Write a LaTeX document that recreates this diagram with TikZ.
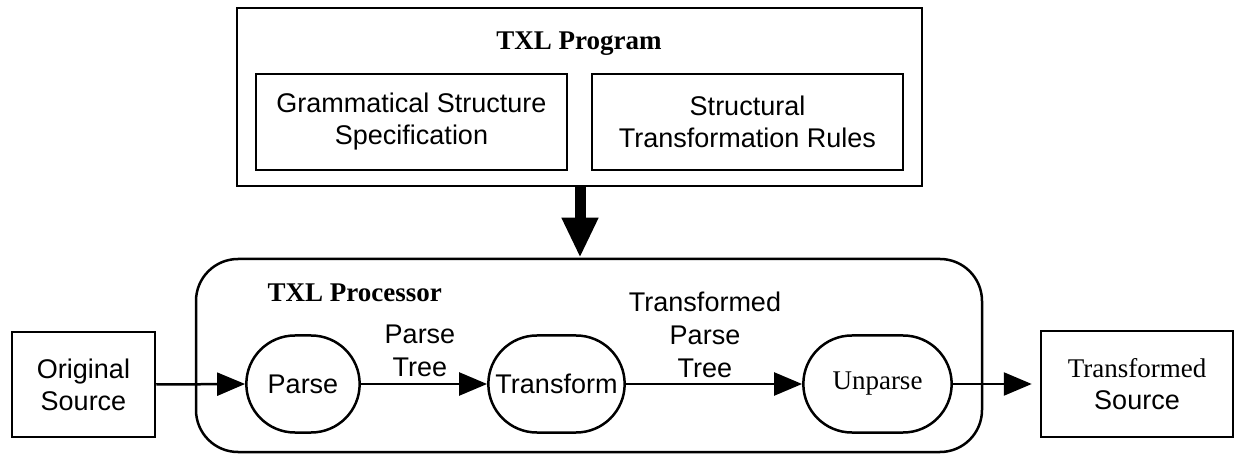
\documentclass[tikz,border=0pt]{standalone}
\usepackage{fontspec}
\usetikzlibrary{arrows.meta,shapes.misc}
\newfontfamily\txtsans{Liberation Sans}
\newfontfamily\txtserif{Liberation Serif}

\tikzset{
  box/.style={draw, line width=2.5pt, rectangle, align=center,
    font=\fontsize{27}{32}\selectfont\txtsans},
  stage/.style={draw, line width=2.5pt, rounded rectangle, minimum height=97pt,
    align=center, font=\fontsize{27}{32}\selectfont\txtsans},
  flow/.style={line width=2.5pt, -{Triangle[length=28pt,width=23pt]}},
  title/.style={font=\fontsize{27}{30}\selectfont\txtserif\bfseries},
  lbl/.style={align=center, font=\fontsize{27}{33}\selectfont\txtsans}
}

\begin{document}
\begin{tikzpicture}[x=1pt,y=-1pt]
\useasboundingbox (0,0) rectangle (1235,454);

% TXL program with its two parts
\node[box, minimum width=685pt, minimum height=178pt] (prog) at (579.5,97) {};
\node[title] (progtitle) at (579,44) {TXL Program};
\node[box, minimum width=311pt, minimum height=96pt] (gram) at (411.5,122) {Grammatical Structure\\Specification};
\node[box, minimum width=311pt, minimum height=96pt] (rules) at (747.5,122) {Structural\\Transformation Rules};

% processor
\node[draw, line width=2.5pt, rounded corners=42pt, minimum width=786pt, minimum height=193pt] (proc) at (589,355.5) {};
\node[title, anchor=west] (proctitle) at (264,293) {TXL Processor};

\draw[line width=11pt, -{Triangle[length=40pt,width=34pt]}] (prog.south -| 580,0) -- (proc.north -| 580,0);

% the three stages
\node[stage, minimum width=120pt] (parse) at (303,384) {Parse};
\node[stage, minimum width=143pt] (transform) at (556.5,384) {Transform};
\node[stage, minimum width=155pt, font=\fontsize{27}{32}\selectfont\txtserif] (unparse) at (877.5,384) {Unparse};

% source and result
\node[box, minimum width=143pt, minimum height=105pt] (orig) at (83.5,384.5) {Original\\Source};
\node[box, minimum width=192pt, minimum height=106pt] (result) at (1137,384) {{\txtserif Transformed}\\Source};

\draw[flow] (orig.east) -- (parse.west);
\draw[flow] (parse.east) -- (transform.west);
\draw[flow] (transform.east) -- (unparse.west);
\draw[flow, shorten >=8pt] (unparse.east) -- (result.west);

\node[lbl] (tree) at (420,351) {Parse\\Tree};
\node[lbl] (ttree) at (705,335) {Transformed\\Parse\\Tree};
\end{tikzpicture}
\end{document}
